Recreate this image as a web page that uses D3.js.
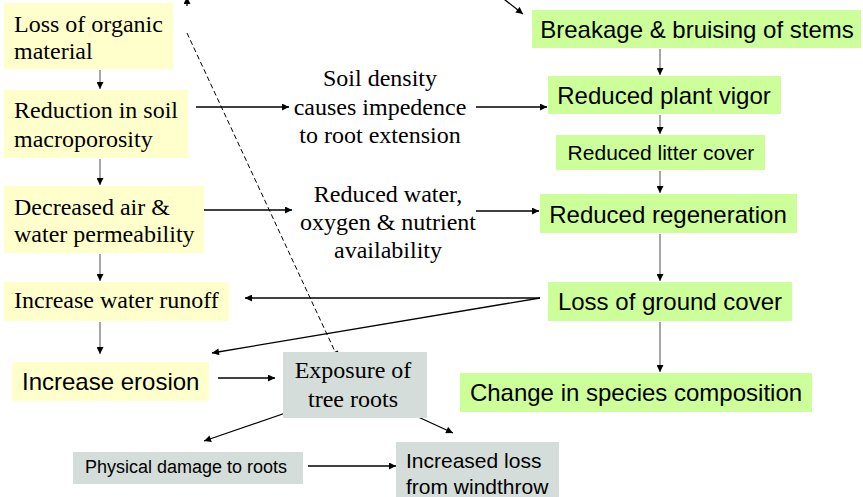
<!DOCTYPE html>
<html>
<head>
<meta charset="utf-8">
<script src="https://cdn.jsdelivr.net/npm/d3@7"></script>
<style>
    body { margin: 0; background: #fff; }
    svg { display: block; }
</style>
</head>
<body>
<script>
(function() {

    //box labels (one string per box, lines split by "|")
    var soilLabels = ["Loss of organic|material", "Reduction in soil|macroporosity",
        "Decreased air &|water permeability", "Increase water runoff", "Increase erosion"];
    var rootLabels = ["Exposure of|tree roots", "Physical damage to roots", "Increased loss|from windthrow"];
    var plantLabels = ["Breakage & bruising of stems", "Reduced plant vigor", "Reduced litter cover",
        "Reduced regeneration", "Loss of ground cover", "Change in species composition"];
    var noteLabels = ["Soil density|causes impedence|to root extension",
        "Reduced water,|oxygen & nutrient|availability"];

    //layout: [x, y, w, h, textX, firstBaseline, lineHeight, font, size, anchor]
    var serif = "'Liberation Serif', 'Times New Roman', serif",
        sans = "'Liberation Sans', Arial, sans-serif";

    var soilLayout = [
        [4, 3, 169, 66, 14, 32, 27, serif, 24, "start"],
        [4, 90, 184, 68, 14, 118, 29, serif, 24, "start"],
        [4, 186, 200, 67, 14, 215, 27, serif, 24, "start"],
        [4, 282, 225, 39, 14, 308, 0, serif, 24, "start"],
        [12, 362, 197, 39, 22, 390, 0, sans, 24, "start"]
    ];
    var rootLayout = [
        [283, 352, 144, 66, 353, 378, 29, serif, 24, "middle"],
        [73, 452, 230, 32, 85, 473, 0, sans, 18, "start"],
        [396, 442, 163, 60, 406, 468, 26, sans, 21, "start"]
    ];
    var plantLayout = [
        [532, 10, 329, 38, 697, 38, 0, sans, 24, "middle"],
        [548, 76, 233, 38, 664, 104, 0, sans, 24, "middle"],
        [556, 135, 209, 35, 661, 160, 0, sans, 21, "middle"],
        [540, 194, 257, 39, 668, 223, 0, sans, 24, "middle"],
        [548, 282, 244, 39, 670, 310, 0, sans, 24, "middle"],
        [460, 373, 352, 39, 636, 401, 0, sans, 24, "middle"]
    ];
    var noteLayout = [
        [380, 86, 28.5, serif, 24],
        [388, 202, 28, serif, 24]
    ];

    //connectors [x1, y1, x2, y2, colour, dashed]
    var links = [
        [100, 70, 100, 89, "#777"],
        [100, 159, 100, 185, "#777"],
        [100, 254, 100, 281, "#777"],
        [100, 322, 100, 354, "#777"],
        [196, 107, 289, 107, "#000"],
        [476, 107, 547, 107, "#000"],
        [204, 210, 292, 210, "#000"],
        [476, 211, 539, 211, "#000"],
        [660, 49, 660, 75, "#777"],
        [660, 115, 660, 134, "#777"],
        [660, 171, 660, 193, "#777"],
        [660, 234, 660, 281, "#777"],
        [660, 322, 660, 372, "#777"],
        [540, 298, 245, 298, "#000"],
        [540, 298, 212, 353, "#000"],
        [218, 378, 275, 378, "#000"],
        [300, 408, 204, 441, "#000"],
        [403, 410, 453, 433, "#000"],
        [308, 466, 396, 466, "#000"],
        [500, -4, 523, 14, "#000"],
        [187, 6, 187, -3, "#000"],
        [187, 33, 338, 358, "#000", true]
    ];

    var fills = { soil: "#ffffcc", root: "#d4ddd9", plant: "#ccff99" };

    var width = 863, height = 497;

    var svg = d3.select("body")
        .append("svg")
        .attr("width", width)
        .attr("height", height);

    //arrowhead
    svg.append("defs").append("marker")
        .attr("id", "head")
        .attr("markerUnits", "userSpaceOnUse")
        .attr("viewBox", "0 0 10 10")
        .attr("refX", 10)
        .attr("refY", 5)
        .attr("markerWidth", 9)
        .attr("markerHeight", 7)
        .attr("orient", "auto")
        .append("path")
        .attr("d", "M0,0L10,5L0,10Z")
        .attr("fill", "#000");

    function drawBoxes(labels, layout, fill) {
        var g = svg.append("g");
        var nodes = labels.map(function(l, i) { return { label: l, p: layout[i] }; });

        g.selectAll("rect")
            .data(nodes)
            .enter()
            .append("rect")
            .attr("x", d => d.p[0])
            .attr("y", d => d.p[1])
            .attr("width", d => d.p[2])
            .attr("height", d => d.p[3])
            .attr("fill", fill);

        var texts = g.selectAll("text")
            .data(nodes)
            .enter()
            .append("text")
            .attr("font-family", d => d.p[7])
            .attr("font-size", d => d.p[8])
            .attr("text-anchor", d => d.p[9])
            .attr("fill", "#000");

        texts.selectAll("tspan")
            .data(d => d.label.split("|").map((t, j) => ({ t: t, j: j, p: d.p })))
            .enter()
            .append("tspan")
            .attr("x", d => d.p[4])
            .attr("y", d => d.p[5] + d.j * d.p[6])
            .text(d => d.t);
    }

    //connectors first so boxes sit above them
    var line = d3.line();
    svg.append("g").selectAll("path")
        .data(links)
        .enter()
        .append("path")
        .attr("d", d => line([[d[0], d[1]], [d[2], d[3]]]))
        .attr("stroke", d => d[4])
        .attr("stroke-width", d => d[5] ? 1 : 1.3)
        .attr("stroke-dasharray", d => d[5] ? "5,3" : null)
        .attr("fill", "none")
        .attr("marker-end", "url(#head)");

    drawBoxes(soilLabels, soilLayout, fills.soil);
    drawBoxes(rootLabels, rootLayout, fills.root);
    drawBoxes(plantLabels, plantLayout, fills.plant);

    //free-standing notes
    var notes = svg.append("g").selectAll("text")
        .data(noteLabels.map((l, i) => ({ label: l, p: noteLayout[i] })))
        .enter()
        .append("text")
        .attr("font-family", d => d.p[3])
        .attr("font-size", d => d.p[4])
        .attr("text-anchor", "middle");

    notes.selectAll("tspan")
        .data(d => d.label.split("|").map((t, j) => ({ t: t, j: j, p: d.p })))
        .enter()
        .append("tspan")
        .attr("x", d => d.p[0])
        .attr("y", d => d.p[1] + d.j * d.p[2])
        .text(d => d.t);

})();
</script>
</body>
</html>
